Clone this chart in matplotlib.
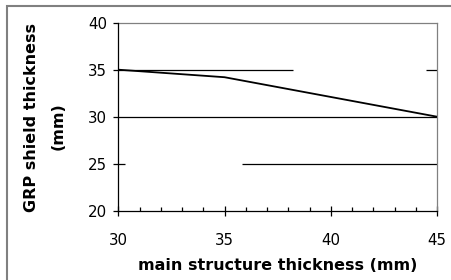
import matplotlib
matplotlib.use("Agg")
import matplotlib.pyplot as plt
from matplotlib.patches import Rectangle

# values
main_thickness = [30, 35, 40, 45]
shield_thickness = [35, 34.2, 32.1, 30]
x_ticks = [30, 35, 40, 45]
y_ticks = [20, 25, 30, 35, 40]
x_label = "main structure thickness (mm)"
y_label_1 = "GRP shield thickness"
y_label_2 = "(mm)"

# gridline pieces as they show in the reference (y, x from, x to)
grid_pieces = [(35, 30, 38.24), (35, 44.5, 45),
               (30, 30, 45),
               (25, 30, 30.33), (25, 35.8, 45)]

W, H = 451, 280
fig = plt.figure(figsize=(W / 100, H / 100), dpi=100)
ax = fig.add_axes([118.3 / W, 1 - 210.7 / H, (437 - 118.3) / W, (210.7 - 22.7) / H])

for yv, x0, x1 in grid_pieces:
    ax.plot([x0, x1], [yv, yv], color="black", lw=0.9, solid_capstyle="butt", zorder=1)

ax.plot(main_thickness, shield_thickness, color="black", lw=1.3, zorder=3)

ax.set_xlim(30, 45)
ax.set_ylim(20, 40)
ax.set_xticks(x_ticks)
ax.set_yticks(y_ticks)
ax.set_xticks(range(30, 46), minor=True)

ax.spines["left"].set_color("black")
ax.spines["bottom"].set_color("black")
ax.spines["top"].set_color("#808080")
ax.spines["right"].set_color("#808080")
for s in ax.spines.values():
    s.set_linewidth(0.9)
for s in ("left", "bottom"):
    ax.spines[s].set_zorder(4)

ax.tick_params(axis="x", which="major", direction="inout", length=7.5, width=0.9,
               labelsize=10.8, pad=12)
ax.tick_params(axis="x", which="minor", direction="in", length=3, width=0.9)
ax.tick_params(axis="y", which="major", direction="out", length=3.6, width=0.9,
               labelsize=10.8, pad=4.5)

fig.text(277.5 / W, 1 - 266 / H, x_label, ha="center", va="center",
         fontsize=11.5, fontweight="bold")
fig.text(31 / W, 1 - 117.5 / H, y_label_1, ha="center", va="center",
         rotation=90, fontsize=11.5, fontweight="bold")
fig.text(58.5 / W, 1 - 126 / H, y_label_2, ha="center", va="center",
         rotation=90, fontsize=11.5, fontweight="bold")

# chart area frame (cut off at right and bottom like the reference)
fig.patches.append(Rectangle((6.5 / W, -0.1), 1.2, (H - 6) / H + 0.1,
                             transform=fig.transFigure, fill=False,
                             edgecolor="#808080", lw=1.5))

fig.savefig("out.png", dpi=100)
